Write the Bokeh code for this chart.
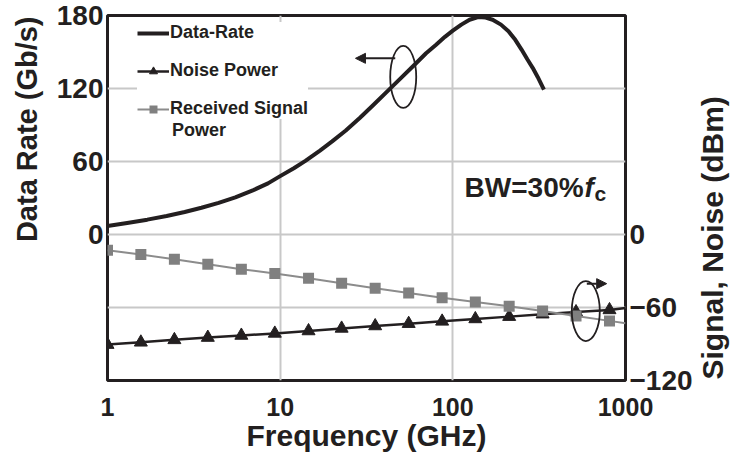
import math
from bokeh.plotting import figure
from bokeh.layouts import row
from bokeh.models import (Range1d, LinearAxis, FixedTicker, NumeralTickFormatter,
                          Legend, LegendItem, Label, Arrow, NormalHead)
from bokeh.embed import file_html
from bokeh.resources import INLINE

# ---------------- data ----------------
rate_freq_ghz = [1, 1.3, 1.7, 2.2, 2.8, 3.5, 4.4, 5.5, 7, 8.5, 10, 12, 14, 17, 20, 24, 29, 35,
                 42, 50, 60, 70, 80, 90, 100, 112, 125, 140, 155, 170, 190, 210, 230, 250,
                 270, 290, 310, 337]
rate_gbps = [7, 9.5, 12.2, 15.2, 18.5, 22, 26, 30.5, 36.5, 42, 48, 54.5, 60.5, 69, 76.5, 85.5,
             96, 107, 118, 128.5, 139.5, 149, 156, 162.5, 167.5, 172.5, 176.5, 178.7, 178.3,
             176.5, 172.5, 167, 160, 152, 144, 137, 129.5, 119]

marker_freq_ghz = [1, 1.56, 2.44, 3.81, 5.96, 9.31, 14.6, 22.7, 35.5, 55.5, 86.7, 135, 212, 331, 517, 808]
signal_dbm = [-13, -16.5, -20.4, -24.4, -28.5, -32, -36, -40, -44.2, -48, -52, -55.5, -59, -62.8, -67, -71]
noise_dbm = [-90.5, -88.6, -86.6, -84.7, -83, -81.3, -79.3, -77.2, -75.2, -73.3, -71.4, -69.4, -67.5, -65.5, -63.7, -62]
end_freq_ghz = [1000]
signal_end_dbm = [-73]
noise_end_dbm = [-60.5]

left_ticks = [0, 60, 120, 180]
right_ticks = [-120, -60, 0]
x_ticks = [1, 10, 100, 1000]

FONT = "Liberation Sans"
INK = "#231f20"
GREY = "#808080"

LEFT_W, RIGHT_W, H = 44, 36, 460
MAIN_W = 731 - LEFT_W - RIGHT_W
FRAME_TOP, FRAME_BOTTOM = 15, 380

p = figure(width=MAIN_W, height=H, x_axis_type="log",
           x_range=Range1d(1, 1000), y_range=Range1d(-120, 180),
           output_backend="svg", toolbar_location=None,
           min_border_left=107 - LEFT_W, min_border_right=(731 - RIGHT_W) - 629,
           min_border_top=FRAME_TOP, min_border_bottom=H - FRAME_BOTTOM)
p.background_fill_color = "white"
p.border_fill_color = "white"
p.outline_line_color = INK
p.outline_line_width = 3


def style_axis(ax, size):
    ax.axis_line_color = None
    ax.major_tick_line_color = None
    ax.minor_tick_line_color = None
    ax.major_tick_out = 0
    ax.major_tick_in = 0
    ax.minor_tick_out = 0
    ax.minor_tick_in = 0
    ax.major_label_text_font = FONT
    ax.major_label_text_font_style = "bold"
    ax.major_label_text_font_size = size
    ax.major_label_text_color = INK


xa = p.xaxis[0]
xa.ticker = FixedTicker(ticks=x_ticks)
xa.formatter = NumeralTickFormatter(format="0")
style_axis(xa, "25px")
xa.major_label_standoff = 17
xa.axis_label = "Frequency (GHz)"
xa.axis_label_text_font = FONT
xa.axis_label_text_font_style = "bold"
xa.axis_label_text_font_size = "30px"
xa.axis_label_text_color = INK
xa.axis_label_standoff = 0

ya = p.yaxis[0]
ya.ticker = FixedTicker(ticks=left_ticks)
style_axis(ya, "28px")
ya.major_label_standoff = 4

yr = LinearAxis(ticker=FixedTicker(ticks=right_ticks))
style_axis(yr, "28px")
yr.major_label_standoff = 4
p.add_layout(yr, "right")

p.xgrid.ticker = FixedTicker(ticks=[10, 100])
p.ygrid.ticker = FixedTicker(ticks=[-60, 0, 60, 120])
p.grid.grid_line_color = "#c8c8c8"
p.grid.grid_line_width = 2

# ---------------- series ----------------
r_rate = p.line(rate_freq_ghz, rate_gbps, line_color=INK, line_width=4, line_join="round")
r_noise_line = p.line(marker_freq_ghz + end_freq_ghz, noise_dbm + noise_end_dbm,
                      line_color=INK, line_width=2.5)
r_noise_pts = p.scatter(marker_freq_ghz, noise_dbm, marker="triangle", size=13,
                        fill_color=INK, line_color=INK)
r_sig_line = p.line(marker_freq_ghz + end_freq_ghz, signal_dbm + signal_end_dbm,
                    line_color="#8c8c8c", line_width=2)
r_sig_pts = p.scatter(marker_freq_ghz, signal_dbm, marker="square", size=11,
                      fill_color=GREY, line_color=None)

legend = Legend(items=[
    LegendItem(label="Data-Rate", renderers=[r_rate]),
    LegendItem(label="Noise Power", renderers=[r_noise_line, r_noise_pts]),
    LegendItem(label="Received Signal", renderers=[r_sig_line, r_sig_pts]),
], location=(30, 261), label_text_font=FONT, label_text_font_style="bold",
    label_text_font_size="18px", label_text_color=INK,
    glyph_width=32, glyph_height=20, label_height=20, label_standoff=1,
    spacing=17, padding=5, margin=0, border_line_color=None,
    background_fill_color="white", background_fill_alpha=1.0)
p.add_layout(legend)
# second line of the third legend label
p.add_layout(Label(x=2.36, y=86, text="Power", text_font=FONT, text_font_style="bold",
                   text_font_size="18px", text_color=INK, text_baseline="middle"))

# ---------------- annotations ----------------
p.ellipse(x=[51.6], y=[129.5], width=26, height=62, width_units="screen",
          height_units="screen", fill_color=None, line_color=INK, line_width=1.8)
p.add_layout(Arrow(end=NormalHead(size=10, fill_color=INK, line_color=INK),
                   x_start=46.4, y_start=144.8, x_end=27.3, y_end=144.8,
                   line_color=INK, line_width=2))
p.ellipse(x=[589], y=[-62.9], width=28, height=60, width_units="screen",
          height_units="screen", fill_color=None, line_color=INK, line_width=1.8)
p.add_layout(Arrow(end=NormalHead(size=10, fill_color=INK, line_color=INK),
                   x_start=597, y_start=-40.4, x_end=778, y_end=-40.4,
                   line_color=INK, line_width=2))

common = dict(text_font=FONT, text_font_style="bold", text_color=INK)
p.add_layout(Label(x=117, y=38.9, text="BW=30%", text_font_size="28px",
                   text_baseline="middle", text_align="left", **common))
p.add_layout(Label(x=117, y=38.9, x_offset=120, text="f", text_font_size="28px",
                   text_baseline="middle", text_align="left",
                   text_font=FONT, text_font_style="bold italic", text_color=INK))
p.add_layout(Label(x=117, y=38.9, x_offset=130, y_offset=-6, text="c", text_font_size="21px",
                   text_baseline="middle", text_align="left", **common))


# ---------------- side strips holding the vertical axis titles ----------------
# (their frames are aligned with the main frame; y data = page pixel row)
def side_fig(w):
    f = figure(width=w, height=H, x_range=Range1d(0, w),
               y_range=Range1d(FRAME_BOTTOM, FRAME_TOP),
               output_backend="svg", toolbar_location=None, min_border=0,
               min_border_top=FRAME_TOP, min_border_bottom=H - FRAME_BOTTOM,
               x_axis_location=None, y_axis_location=None, outline_line_color=None)
    f.grid.visible = False
    f.background_fill_color = "white"
    f.border_fill_color = "white"
    return f


pl = side_fig(LEFT_W)
pl.add_layout(Label(x=26, y=16, text="Data Rate (Gb/s)", angle=math.pi / 2,
                    text_align="right", text_baseline="middle",
                    text_font_size="29px", **common))

pr = side_fig(RIGHT_W)
pr.add_layout(Label(x=16.5, y=379, text="Signal, Noise (dBm)", angle=math.pi / 2,
                    text_align="left", text_baseline="middle",
                    text_font_size="30px", **common))

layout = row(pl, p, pr, spacing=0)
open("out.html", "w").write(file_html(layout, INLINE))
